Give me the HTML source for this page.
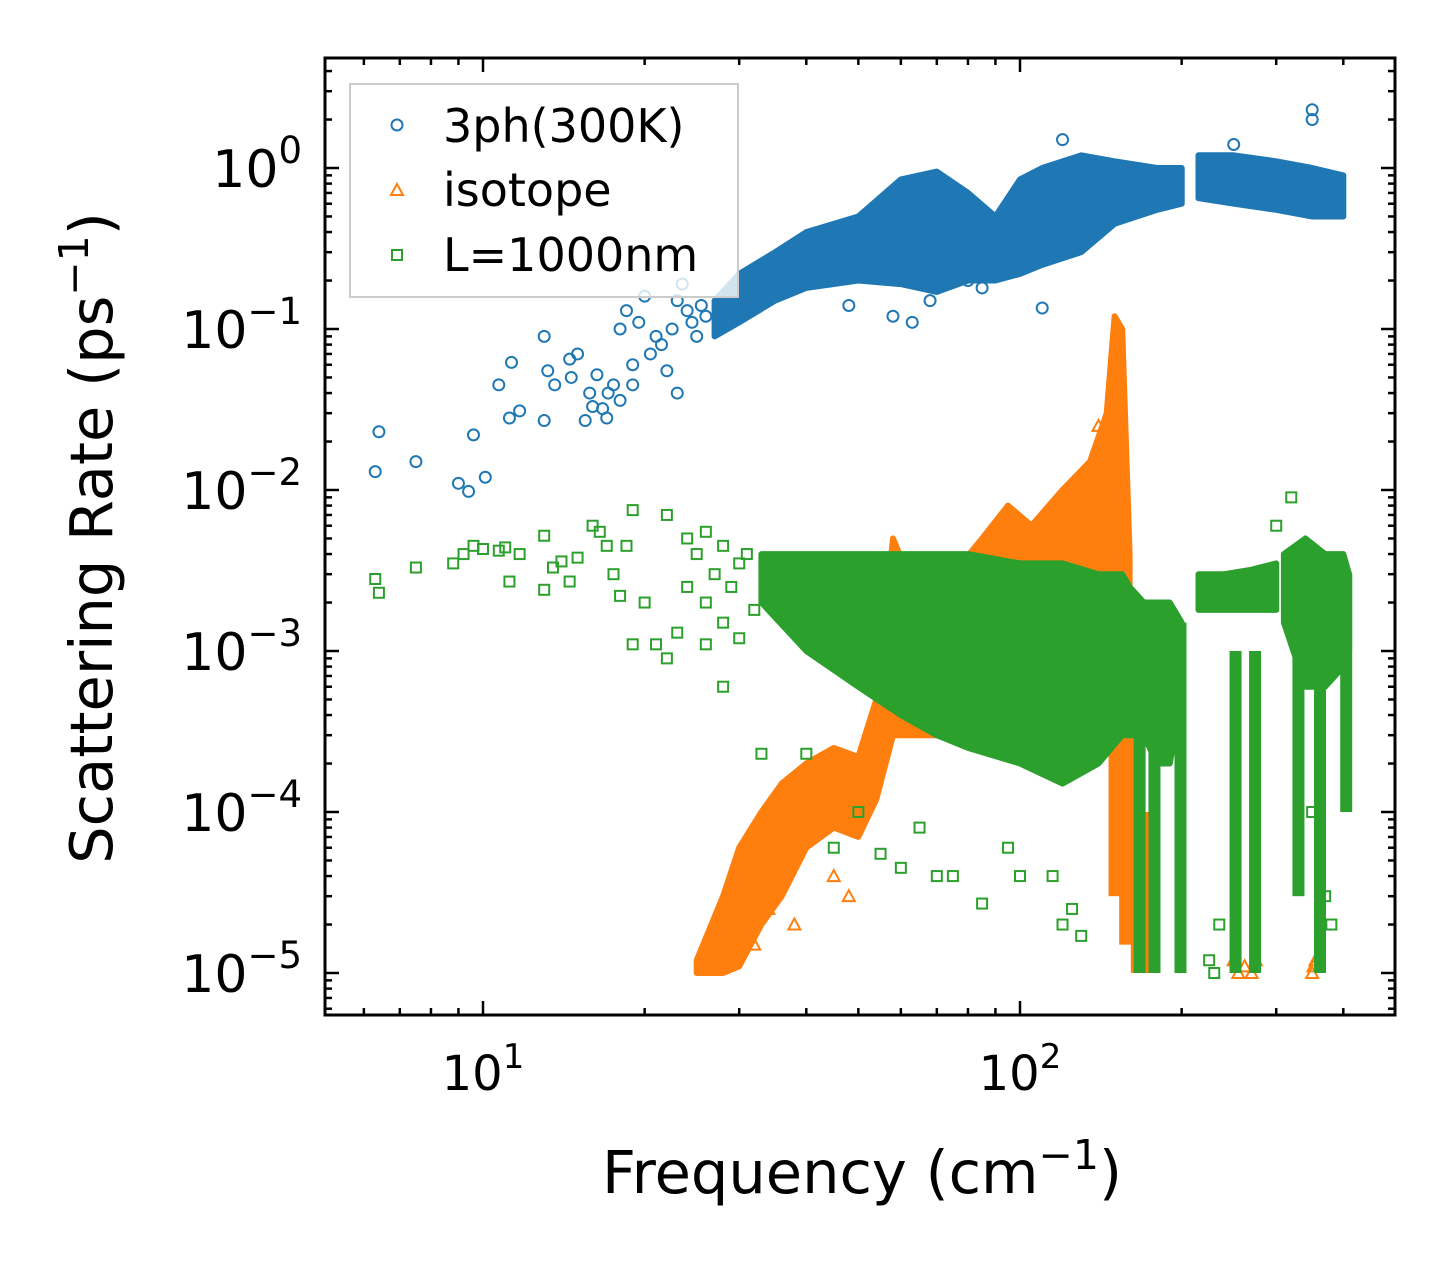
<!DOCTYPE html>
<html><head><meta charset="utf-8"><style>
html,body{margin:0;padding:0;background:#fff;}
svg{display:block;font-family:"DejaVu Sans","Liberation Sans",sans-serif;}
</style></head><body>
<svg id="chart" width="1455" height="1265" viewBox="0 0 1455 1265" xmlns="http://www.w3.org/2000/svg">
<rect x="0" y="0" width="1455" height="1265" fill="#fff"/>
<g id="marks"></g>
<g id="axes"></g>
<text x="862" y="1193" font-size="59" text-anchor="middle">Frequency (cm<tspan dy="-24" font-size="41">−1</tspan><tspan dy="24">)</tspan></text>
<text transform="translate(112,538) rotate(-90)" font-size="59" text-anchor="middle">Scattering Rate (ps<tspan dy="-24" font-size="41">−1</tspan><tspan dy="24">)</tspan></text>
<g>
<rect x="350" y="84" width="388" height="213" fill="#fff" fill-opacity="0.8" stroke="#ccc" stroke-width="2"/>
<circle cx="397" cy="125" r="5.5" fill="none" stroke="#1f77b4" stroke-width="2"/>
<text x="443" y="142" font-size="46">3ph(300K)</text>
<polygon points="397,184 403,195 391,195" fill="none" stroke="#ff7f0e" stroke-width="2"/>
<text x="443" y="206" font-size="46">isotope</text>
<rect x="392" y="250" width="10" height="10" fill="none" stroke="#2ca02c" stroke-width="2"/>
<text x="443" y="271" font-size="46">L=1000nm</text>
</g>
</svg>
<script>
// ---- data ----
const blueBandX  = [27,30,35,40,50,60,70,80,90,100,110,130,150,180,200];
const blueBandLo = [0.09,0.11,0.15,0.18,0.2,0.19,0.17,0.2,0.2,0.22,0.25,0.3,0.45,0.55,0.6];
const blueBandHi = [0.15,0.22,0.3,0.4,0.5,0.85,0.95,0.7,0.5,0.85,1.0,1.2,1.1,1.0,1.0];
const blueBand2X  = [215,250,300,350,400];
const blueBand2Lo = [0.65,0.6,0.55,0.5,0.5];
const blueBand2Hi = [1.2,1.2,1.1,1.0,0.9];
const blueX = [6.3,6.4,7.5,9,9.4,9.6,10.1,10.7,11.2,11.3,11.7,13,13,13.2,13.6,14.5,14.6,15,15.5,15.8,16,16.3,16.7,17,17.1,17.5,18,18,18.5,19,19,19.5,20,20.5,21,22,22.5,23,23.5,24,25,26,21.5,23,24.5,25.5,58,63,48,68,85,110,80,350,350,250,120];
const blueY = [0.013,0.023,0.015,0.011,0.0098,0.022,0.012,0.045,0.028,0.062,0.031,0.09,0.027,0.055,0.045,0.065,0.05,0.07,0.027,0.04,0.033,0.052,0.032,0.028,0.04,0.045,0.036,0.1,0.13,0.06,0.045,0.11,0.16,0.07,0.09,0.055,0.1,0.04,0.19,0.13,0.09,0.12,0.08,0.15,0.11,0.14,0.12,0.11,0.14,0.15,0.18,0.135,0.2,2.3,2.0,1.4,1.5];

const orangeBandX  = [25,28,30,33,36,40,45,50,54,58,65,75,85,95,105,120,135,145,150,155,160];
const orangeBandHi = [1.2e-5,3e-5,6e-5,1e-4,1.5e-4,2e-4,2.5e-4,2.2e-4,5e-4,5e-3,2e-3,3e-3,5e-3,8e-3,6e-3,1e-2,1.5e-2,3e-2,0.12,0.1,4e-3];
const orangeBandLo = [1e-5,1e-5,1.1e-5,2e-5,3e-5,6e-5,8e-5,7e-5,1.2e-4,3e-4,3e-4,3e-4,3e-4,3e-4,3e-4,3e-4,3e-4,3e-4,3e-4,3e-4,3e-4];
const orangeStripX  = [150,157,165,172,178];
const orangeStripLo = [3e-5,1.5e-5,1e-5,1e-5,1e-5];
const orangeStripHi = [3e-4,3e-4,3e-4,1e-4,1e-4];
const orangeX = [250,255,262,270,275,350,352,355,140,130,32,34,38,45,48];
const orangeY = [1.2e-5,1e-5,1.1e-5,1e-5,1.2e-5,1e-5,1.1e-5,1.2e-5,2.5e-2,1.2e-2,1.5e-5,2.5e-5,2e-5,4e-5,3e-5];

const greenBandX  = [33,40,50,60,70,80,100,120,140,155,160,170,180,190,200];
const greenBandHi = [4e-3,4e-3,4e-3,4e-3,4e-3,4e-3,3.5e-3,3.5e-3,3e-3,3e-3,2.5e-3,2e-3,2e-3,2e-3,1.5e-3];
const greenBandLo = [2e-3,1e-3,6e-4,4e-4,3e-4,2.5e-4,2e-4,1.5e-4,2e-4,3e-4,3e-4,3e-4,2e-4,2e-4,5e-4];
const greenBand2X  = [215,240,270,300];
const greenBand2Hi = [3e-3,3e-3,3.2e-3,3.5e-3];
const greenBand2Lo = [1.8e-3,1.8e-3,1.8e-3,1.8e-3];
const greenBand3X  = [310,340,370,400,410];
const greenBand3Hi = [4e-3,5e-3,4e-3,4e-3,3e-3];
const greenBand3Lo = [1.5e-3,6e-4,6e-4,8e-4,1e-3];
const stripX  = [167,178,199,252,274,330,362,405];
const stripLo = [1e-5,1e-5,1e-5,1e-5,1e-5,3e-5,1e-5,1e-4];
const stripHi = [1e-3,1e-3,1.5e-3,1e-3,1e-3,3e-3,3e-3,3e-3];
const greenX = [6.3,6.4,7.5,8.8,9.2,9.6,10,10.7,11,11.2,11.7,13,13,13.5,14,14.5,15,16,16.5,17,17.5,18,18.5,19,19,20,21,22,22,23,24,25,26,27,28,29,30,31,24,26,28,30,32,26,28,33,40,45,55,60,70,75,85,100,120,130,125,320,300,115,95,65,50,350,380,370,225,230,235];
const greenY = [2.8e-3,2.3e-3,3.3e-3,3.5e-3,4e-3,4.5e-3,4.3e-3,4.2e-3,4.4e-3,2.7e-3,4e-3,2.4e-3,5.2e-3,3.3e-3,3.6e-3,2.7e-3,3.8e-3,6e-3,5.5e-3,4.5e-3,3e-3,2.2e-3,4.5e-3,7.5e-3,1.1e-3,2e-3,1.1e-3,7e-3,9e-4,1.3e-3,5e-3,4e-3,5.5e-3,3e-3,4.5e-3,2.5e-3,3.5e-3,4e-3,2.5e-3,2e-3,1.5e-3,1.2e-3,1.8e-3,1.1e-3,6e-4,2.3e-4,2.3e-4,6e-5,5.5e-5,4.5e-5,4e-5,4e-5,2.7e-5,4e-5,2e-5,1.7e-5,2.5e-5,9e-3,6e-3,4e-5,6e-5,8e-5,1e-4,1e-4,2e-5,3e-5,1.2e-5,1e-5,2e-5];

const xMajor = [10,100];
const yMajorExp = [-5,-4,-3,-2,-1,0];

// ---- axes ----
const L=325,R=1395,T=58,B=1015;
function xs(f){return 483+(Math.log10(f)-1)*537;}
function ys(v){return 168-Math.log10(v)*161;}
const NS='http://www.w3.org/2000/svg';
const marks=document.getElementById('marks');
const axes=document.getElementById('axes');
function mk(tag,attrs,parent){const e=document.createElementNS(NS,tag);for(const k in attrs)e.setAttribute(k,attrs[k]);parent.appendChild(e);return e;}

const clip=mk('clipPath',{id:'pc'},marks);
mk('rect',{x:L,y:T,width:R-L,height:B-T},clip);
const g=mk('g',{'clip-path':'url(#pc)'},marks);

function band(X,Lo,Hi,color,name){
  const pts=[];
  for(let i=0;i<X.length;i++)pts.push(xs(X[i]).toFixed(1)+','+ys(Hi[i]).toFixed(1));
  for(let i=X.length-1;i>=0;i--)pts.push(xs(X[i]).toFixed(1)+','+ys(Lo[i]).toFixed(1));
  const p=mk('polygon',{points:pts.join(' '),fill:color,stroke:color,'stroke-width':6,'stroke-linejoin':'round'},g);
  
  
}
function strips(X,Lo,Hi,color,name){
  X.forEach((x,i)=>{const r=mk('rect',{x:xs(x)-6,y:ys(Hi[i]),width:12,height:ys(Lo[i])-ys(Hi[i]),fill:color},g);
    
    });
}
function circ(x,y){const c=mk('circle',{cx:xs(x),cy:ys(y),r:5.5,fill:'none',stroke:'#1f77b4','stroke-width':2},g);
  
  }
function tri(x,y){const cx=xs(x),cy=ys(y);const p=mk('polygon',{points:`${cx},${cy-6} ${cx+6},${cy+5} ${cx-6},${cy+5}`,fill:'none',stroke:'#ff7f0e','stroke-width':2},g);
  
  }
function sq(x,y){const r=mk('rect',{x:xs(x)-5,y:ys(y)-5,width:10,height:10,fill:'none',stroke:'#2ca02c','stroke-width':2},g);
  
  }

band(blueBandX,blueBandLo,blueBandHi,'#1f77b4','band-3ph');
band(blueBand2X,blueBand2Lo,blueBand2Hi,'#1f77b4','band-3ph-high');
blueX.forEach((x,i)=>circ(x,blueY[i]));
band(orangeBandX,orangeBandLo,orangeBandHi,'#ff7f0e','band-isotope');
strips(orangeStripX,orangeStripLo,orangeStripHi,'#ff7f0e','strip-isotope');
orangeX.forEach((x,i)=>tri(x,orangeY[i]));
band(greenBandX,greenBandLo,greenBandHi,'#2ca02c','band-boundary-main');
band(greenBand2X,greenBand2Lo,greenBand2Hi,'#2ca02c','band-boundary-mid');
band(greenBand3X,greenBand3Lo,greenBand3Hi,'#2ca02c','band-boundary-high');
strips(stripX,stripLo,stripHi,'#2ca02c','strip-boundary');
greenX.forEach((x,i)=>sq(x,greenY[i]));

// frame
const fr=mk('rect',{x:L,y:T,width:R-L,height:B-T,fill:'none',stroke:'#000','stroke-width':3},axes);


function tickX(f,len){const x=xs(f);if(x<L||x>R)return;
  mk('line',{x1:x,y1:B,x2:x,y2:B-len,stroke:'#000','stroke-width':2.5},axes);
  mk('line',{x1:x,y1:T,x2:x,y2:T+len,stroke:'#000','stroke-width':2.5},axes);}
function tickY(v,len){const y=ys(v);if(y<T||y>B)return;
  mk('line',{x1:L,y1:y,x2:L+len,y2:y,stroke:'#000','stroke-width':2.5},axes);
  mk('line',{x1:R,y1:y,x2:R-len,y2:y,stroke:'#000','stroke-width':2.5},axes);}
for(let d=1;d<=100;d*=10)for(let k=1;k<10;k++)tickX(k*d,k===1?14:7);
for(let e=-6;e<=0;e++)for(let k=1;k<10;k++)tickY(k*Math.pow(10,e),k===1?14:7);
xMajor.forEach(v=>{const t=mk('text',{x:xs(v),y:1090,'font-size':48,'text-anchor':'middle'},axes);
  
  
  t.innerHTML='10<tspan dy="-22" font-size="34">'+Math.round(Math.log10(v))+'</tspan>';});
yMajorExp.forEach(e=>{const t=mk('text',{x:302,y:ys(Math.pow(10,e))+19,'font-size':52,'text-anchor':'end'},axes);
  
  
  t.innerHTML='10<tspan dy="-24" font-size="37">'+(e<0?'−'+(-e):e)+'</tspan>';});
</script>
</body></html>
